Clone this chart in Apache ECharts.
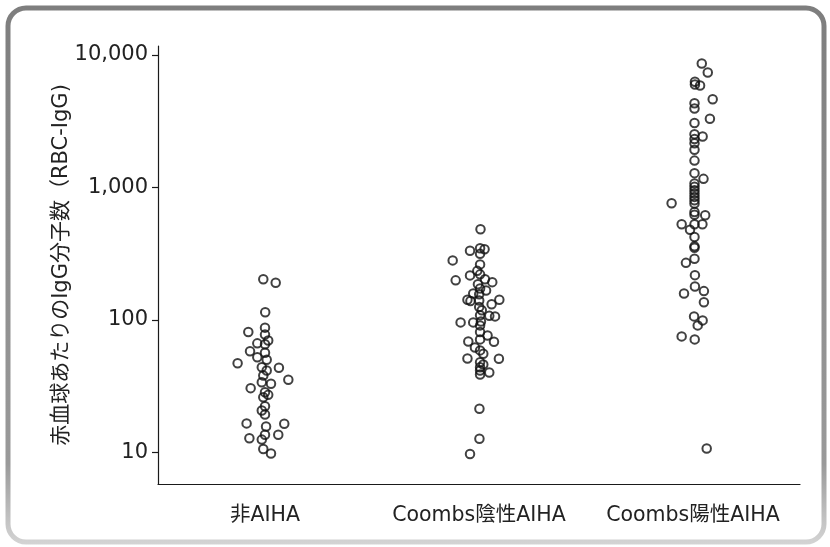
<!DOCTYPE html>
<html><head><meta charset="utf-8">
<script src="https://cdn.jsdelivr.net/npm/echarts@6/dist/echarts.min.js"></script>
<style>html,body{margin:0;padding:0;background:#fff}#c{width:830px;height:547px}</style>
</head><body><div id="c"></div>
<script>
const categories = ['非AIHA', 'Coombs陰性AIHA', 'Coombs陽性AIHA'];
const yTicks = [10, 100, 1000, 10000];
const yTitle = '赤血球あたりのIgG分子数（RBC-IgG)';

// 非AIHA
const nonAihaValues = [204,192,115,88,81.5,78,70.5,67,66,58.5,57,52.7,50.4,47.5,44.3,43.9,41.8,38.4,35.6,34.1,33.2,30.8,28.7,27.4,26.3,22.5,20.9,19.5,16.7,16.6,15.8,13.7,13.7,12.9,12.6,10.7,9.9];
const nonAihaJitter = [-0.008,0.050,0.001,0,-0.078,0,0.015,-0.036,0,-0.070,0,-0.036,0.008,-0.128,-0.015,0.065,0.008,-0.008,0.109,-0.015,0.028,-0.067,0,0.015,-0.008,0,-0.015,0,-0.086,0.090,0.005,0,0.062,-0.073,-0.015,-0.008,0.028];

// Coombs陰性AIHA
const negValues = [486,334,349,343,317,283,264,236,218,222,200,204,194,187,174,168,159,157,143,140,141,143,132,126,119,109,108,107,96.4,96.4,98,91.5,81.7,76.9,71.8,69.3,68.9,62.4,59.3,55.9,51.5,51.3,48.3,46.4,44.3,41.8,40.4,39.0,21.5,12.8,9.8];
const negJitter = [0.007,-0.042,0.005,0.026,0.005,-0.123,0.005,-0.008,-0.042,0.005,-0.109,0.028,0.062,-0.005,0.005,0.033,-0.027,0.001,-0.054,-0.040,0.001,0.095,0.059,0.001,0.013,0.005,0.048,0.075,-0.086,-0.027,0.009,0.005,0.005,0.040,0.005,-0.050,0.070,-0.019,0.005,0.020,-0.054,0.093,0.005,0.020,0.005,0.005,0.048,0.005,0.002,0.002,-0.042];

// Coombs陽性AIHA
const posValues = [8644,7389,6295,5998,5893,4645,4325,3951,3308,3070,2527,2428,2324,2158,1930,1600,1287,1165,1076,1014,957,904,852,805,760,764,656,625,620,530,530,530,482,425,361,352,291,271,219,180,159,166,137,107,99.8,91.5,75.6,71.8,10.8];
const posJitter = [0.041,0.069,0.009,0.009,0.033,0.092,0.007,0.007,0.079,0.007,0.007,0.045,0.007,0.007,0.007,0.007,0.007,0.049,0.007,0.007,0.007,0.007,0.007,0.007,0.007,-0.100,0.007,0.007,0.057,-0.053,0.007,0.044,-0.014,0.007,0.007,0.007,0.007,-0.033,0.009,0.009,-0.042,0.051,0.051,0.005,0.045,0.022,-0.053,0.008,0.064];

const groups = [
  [nonAihaValues, nonAihaJitter],
  [negValues, negJitter],
  [posValues, posJitter]
];

const FONT = '"DejaVu Sans", "Noto Sans CJK JP", sans-serif';
const TXT = '#222';

const series = groups.map(([vals, jit], gi) => ({
  type: 'scatter',
  xAxisIndex: 0, yAxisIndex: 0,
  symbol: 'circle',
  symbolSize: 8.5,
  itemStyle: { color: 'rgba(0,0,0,0)', borderColor: '#111', borderWidth: 2 },
  emphasis: { disabled: true },
  data: vals.map((v, i) => [gi + 0.5 + jit[i], v])
}));

const chart = echarts.init(document.getElementById('c'), null, { renderer: 'canvas' });
chart.setOption({
  animation: false,
  backgroundColor: '#fff',
  graphic: [{
    type: 'rect',
    shape: { x: 8, y: 8, width: 816, height: 534, r: 18 },
    style: {
      fill: 'none',
      lineWidth: 5,
      stroke: { type: 'linear', x: 0, y: 0, x2: 0, y2: 1,
        colorStops: [{ offset: 0, color: '#7e7e7e' }, { offset: 0.85, color: '#9a9a9a' }, { offset: 1, color: '#d4d4d4' }] }
    },
    z: -10
  }],
  grid: [
    { left: 158, right: 30, top: 46, bottom: 63 },
    { left: 158, right: 30, top: 55, bottom: 94.7 }
  ],
  xAxis: [
    {
      type: 'value', gridIndex: 0, min: 0, max: 3, interval: 0.5,
      axisLine: { show: true, lineStyle: { color: '#1a1a1a', width: 1.2 } },
      axisTick: { show: false },
      splitLine: { show: false },
      axisLabel: {
        margin: 21, fontSize: 20.5, fontFamily: FONT, color: TXT,
        formatter: v => (Math.abs(v % 1 - 0.5) < 1e-6) ? categories[Math.floor(v)] : ''
      }
    },
    { type: 'value', gridIndex: 1, min: 0, max: 3, show: false }
  ],
  yAxis: [
    {
      type: 'log', gridIndex: 0, min: 5.83, max: 11700,
      axisLine: { show: true, lineStyle: { color: '#1a1a1a', width: 1.2 } },
      axisTick: { show: false },
      axisLabel: { show: false },
      splitLine: { show: false },
      name: yTitle,
      nameLocation: 'middle',
      nameGap: 86,
      nameTextStyle: { fontSize: 21, fontFamily: FONT, color: TXT }
    },
    {
      type: 'log', gridIndex: 1, min: yTicks[0], max: yTicks[yTicks.length - 1],
      axisLine: { show: false },
      axisTick: { show: true, length: 6, lineStyle: { color: '#1a1a1a', width: 1.2 } },
      splitLine: { show: false },
      axisLabel: {
        margin: 10, fontSize: 21, fontFamily: FONT, color: TXT,
        formatter: v => Number(v).toLocaleString('en-US')
      }
    }
  ],
  series: series
});
</script>
</body></html>
